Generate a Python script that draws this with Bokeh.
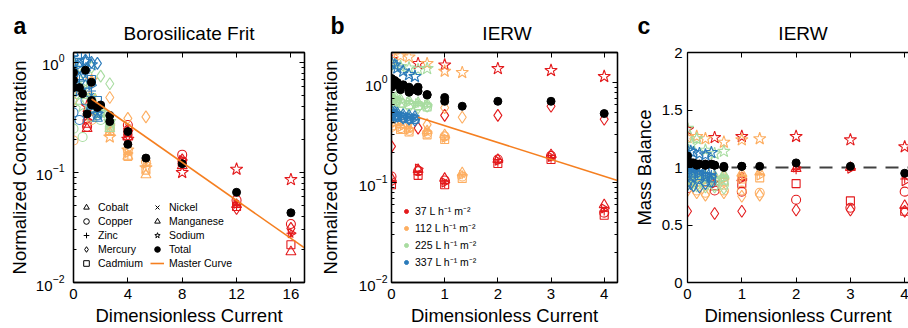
import math
from bokeh.plotting import figure
from bokeh.layouts import row
from bokeh.models import (LinearAxis, FixedTicker, Range1d, Legend, LegendItem, Span, Label)
from bokeh.embed import file_html
from bokeh.resources import INLINE

FONT = "Liberation Sans"
FLOWS = ["37", "112", "225", "337"]
FLOW_COLORS = {"37": "#e31a1c", "112": "#fdae61", "225": "#a8dca0", "337": "#2b7bba"}
FLOW_LABELS = {"37": "37 L h⁻¹ m⁻²", "112": "112 L h⁻¹ m⁻²",
               "225": "225 L h⁻¹ m⁻²", "337": "337 L h⁻¹ m⁻²"}
MC_COLOR = "#f57f20"
ELEMENTS = ["Cobalt", "Copper", "Zinc", "Mercury", "Cadmium", "Nickel", "Manganese", "Sodium"]
MARKER = {"Cobalt": "triangle", "Copper": "circle", "Zinc": "cross", "Mercury": "diamond",
          "Cadmium": "square", "Nickel": "x", "Manganese": "triangle", "Sodium": "star"}
ANGLE = {"Cobalt": -math.pi / 2}
SIZE = {"Cobalt": 9, "Copper": 9, "Zinc": 9, "Mercury": 12, "Cadmium": 8,
        "Nickel": 7, "Manganese": 10, "Sodium": 13}

# ---------------- panel a : Borosilicate Frit ----------------
A_X_37 = [1, 4, 8, 12, 16]
A_X_112 = [0, 1.33, 2.67, 4, 5.33]
A_X_225 = [0, 0.67, 1.33, 2, 2.67]
A_X_337 = [0, 0.44, 0.88, 1.32, 1.76]
A_Y_37 = dict(Cobalt=[0.30, 0.24, 0.13, 0.052, 0.028], Copper=[0.26, 0.27, 0.145, 0.056, 0.034],
              Zinc=[0.33, 0.25, 0.125, 0.050, 0.028], Mercury=[0.36, 0.22, 0.13, 0.047, 0.031],
              Cadmium=[0.28, 0.23, 0.125, 0.049, 0.022], Nickel=[0.31, 0.26, 0.13, 0.053, 0.027],
              Manganese=[0.25, 0.21, 0.115, 0.051, 0.019], Sodium=[0.40, 0.20, 0.10, 0.107, 0.086],
              Total=[0.34, 0.235, 0.12, 0.066, 0.043])
A_Y_112 = dict(Cobalt=[0.80, 0.50, 0.27, 0.15, 0.12], Copper=[0.195, 0.30, 0.25, 0.16, 0.125],
               Zinc=[0.60, 0.45, 0.26, 0.145, 0.115], Mercury=[0.45, 0.66, 0.48, 0.31, 0.32],
               Cadmium=[0.72, 0.42, 0.24, 0.14, 0.105], Nickel=[0.65, 0.44, 0.28, 0.15, 0.118],
               Manganese=[0.90, 0.36, 0.23, 0.14, 0.095], Sodium=[0.58, 0.69, 0.21, 0.16, 0.11],
               Total=[0.59, 0.41, 0.29, 0.18, 0.135])
A_Y_225 = dict(Cobalt=[0.85, 0.60, 0.45, 0.38, 0.28], Copper=[0.25, 0.21, 0.32, 0.30, 0.26],
               Zinc=[0.70, 0.55, 0.50, 0.40, 0.30], Mercury=[0.55, 0.80, 0.90, 0.75, 0.64],
               Cadmium=[0.95, 0.62, 0.48, 0.36, 0.27], Nickel=[0.78, 0.58, 0.46, 0.36, 0.30],
               Manganese=[1.0, 0.50, 0.40, 0.34, 0.25], Sodium=[0.45, 0.40, 0.38, 0.35, 0.29],
               Total=[0.69, 0.52, 0.45, 0.41, 0.33])
A_Y_337 = dict(Cobalt=[1.05, 0.95, 0.85, 0.62, 0.40], Copper=[0.35, 0.30, 0.45, 0.38, 0.33],
               Zinc=[0.75, 0.70, 0.80, 0.55, 0.36], Mercury=[0.60, 0.90, 1.05, 1.0, 0.98],
               Cadmium=[1.23, 1.0, 1.20, 0.70, 0.45], Nickel=[0.90, 0.80, 0.75, 0.50, 0.34],
               Manganese=[1.22, 0.72, 0.62, 0.40, 0.31], Sodium=[0.65, 0.55, 1.02, 0.95, 0.34],
               Total=[0.81, 0.59, 0.85, 0.66, 0.39])
A_MC_X = [1.33, 17]
A_MC_Y = [0.465, 0.0206]

# ---------------- panel b : IERW concentration ----------------
B_X_37 = [0, 0.5, 1, 2, 3, 4]
B_X_112 = [0, 0.17, 0.33, 0.67, 1.0, 1.33]
B_X_225 = [0, 0.08, 0.17, 0.33, 0.5, 0.67]
B_X_337 = [0, 0.06, 0.11, 0.22, 0.33, 0.44]
B_Y_37 = dict(Cobalt=[0.10, 0.138, 0.10, 0.165, 0.18, 0.055], Copper=[0.115, 0.13, 0.105, 0.17, 0.185, 0.05],
              Zinc=[0.10, 0.12, 0.098, 0.16, 0.175, 0.052], Mercury=[0.23, 0.35, 0.47, 0.47, 0.58, 0.43],
              Cadmium=[0.095, 0.118, 0.095, 0.155, 0.17, 0.047], Nickel=[0.105, 0.125, 0.102, 0.163, 0.18, 0.054],
              Manganese=[0.11, 0.135, 0.11, 0.17, 0.19, 0.06], Sodium=[1.7, 1.55, 1.5, 1.38, 1.32, 1.15],
              Total=[0.95, 0.9, 0.71, 0.65, 0.65, 0.49])
B_Y_112 = dict(Cobalt=[0.38, 0.36, 0.34, 0.32, 0.28, 0.12], Copper=[0.36, 0.35, 0.33, 0.31, 0.29, 0.115],
               Zinc=[0.39, 0.37, 0.35, 0.33, 0.27, 0.12], Mercury=[0.45, 0.42, 0.40, 0.38, 0.56, 0.45],
               Cadmium=[0.37, 0.34, 0.32, 0.30, 0.27, 0.11], Nickel=[0.38, 0.36, 0.33, 0.31, 0.28, 0.118],
               Manganese=[0.40, 0.38, 0.35, 0.33, 0.30, 0.125], Sodium=[1.95, 1.85, 1.80, 1.55, 1.3, 1.26],
               Total=[0.9, 0.85, 0.8, 0.75, 0.65, 0.58])
B_Y_225 = dict(Cobalt=[0.72, 0.68, 0.66, 0.64, 0.62, 0.60], Copper=[0.70, 0.66, 0.63, 0.60, 0.58, 0.57],
               Zinc=[0.74, 0.70, 0.67, 0.65, 0.62, 0.61], Mercury=[0.62, 0.60, 0.58, 0.57, 0.56, 0.58],
               Cadmium=[0.68, 0.64, 0.62, 0.60, 0.59, 0.57], Nickel=[0.71, 0.69, 0.65, 0.63, 0.61, 0.59],
               Manganese=[0.73, 0.71, 0.68, 0.66, 0.63, 0.62], Sodium=[1.55, 1.5, 1.45, 1.4, 1.35, 1.38],
               Total=[1.0, 0.95, 0.9, 0.87, 0.82, 0.76])
B_Y_337 = dict(Cobalt=[0.50, 0.48, 0.47, 0.46, 0.45, 0.44], Copper=[0.47, 0.46, 0.45, 0.44, 0.43, 0.43],
               Zinc=[0.52, 0.50, 0.49, 0.47, 0.46, 0.45], Mercury=[0.44, 0.45, 0.46, 0.44, 0.43, 0.42],
               Cadmium=[0.49, 0.47, 0.46, 0.45, 0.44, 0.43], Nickel=[0.51, 0.50, 0.48, 0.46, 0.45, 0.44],
               Manganese=[0.52, 0.51, 0.50, 0.48, 0.47, 0.46], Sodium=[1.6, 1.5, 1.4, 1.3, 1.2, 1.15],
               Total=[1.1, 1.05, 1.0, 0.95, 0.9, 0.85])
B_MC_X = [0.5, 4.25]
B_MC_Y = [0.45, 0.105]

# ---------------- panel c : IERW mass balance ----------------
C_Y_37 = dict(Cobalt=[0.88, 0.86, 0.90, 1.0, 0.99, 0.88], Copper=[0.82, 0.80, 0.79, 0.72, 0.65, 0.79],
              Zinc=[0.90, 0.88, 0.92, 0.98, 1.0, 0.90], Mercury=[0.62, 0.60, 0.62, 0.63, 0.63, 0.62],
              Cadmium=[0.87, 0.84, 0.86, 0.86, 0.71, 0.62], Nickel=[0.90, 0.89, 0.93, 1.0, 1.0, 0.92],
              Manganese=[0.92, 0.91, 0.91, 0.99, 1.0, 0.67], Sodium=[1.33, 1.26, 1.27, 1.27, 1.24, 1.18],
              Total=[1.05, 1.02, 1.01, 1.04, 1.01, 0.95])
C_Y_112 = dict(Cobalt=[0.92, 0.90, 0.89, 0.90, 0.92, 0.93], Copper=[0.85, 0.80, 0.78, 0.80, 0.80, 0.78],
               Zinc=[0.93, 0.91, 0.90, 0.91, 0.93, 0.94], Mercury=[0.80, 0.78, 0.76, 0.78, 0.75, 0.76],
               Cadmium=[0.90, 0.88, 0.87, 0.88, 0.90, 0.91], Nickel=[0.93, 0.91, 0.90, 0.92, 0.94, 0.95],
               Manganese=[0.95, 0.93, 0.92, 0.93, 0.95, 0.96], Sodium=[1.26, 1.27, 1.25, 1.22, 1.24, 1.25],
               Total=[1.04, 1.02, 1.02, 1.0, 1.01, 1.01])
C_Y_225 = dict(Cobalt=[0.95, 0.93, 0.92, 0.90, 0.90, 0.91], Copper=[0.90, 0.88, 0.87, 0.85, 0.84, 0.85],
               Zinc=[0.97, 0.95, 0.93, 0.92, 0.92, 0.93], Mercury=[0.88, 0.86, 0.84, 0.83, 0.83, 0.82],
               Cadmium=[0.93, 0.91, 0.90, 0.88, 0.88, 0.89], Nickel=[0.96, 0.94, 0.93, 0.91, 0.92, 0.92],
               Manganese=[0.98, 0.96, 0.95, 0.93, 0.93, 0.94], Sodium=[1.34, 1.2, 1.25, 1.15, 1.12, 1.14],
               Total=[1.1, 1.04, 1.03, 1.02, 1.02, 1.01])
C_Y_337 = dict(Cobalt=[1.0, 0.98, 0.97, 0.95, 0.93, 0.92], Copper=[0.95, 0.93, 0.92, 0.90, 0.88, 0.87],
               Zinc=[1.02, 1.0, 0.99, 0.97, 0.95, 0.94], Mercury=[0.85, 0.86, 0.84, 0.83, 0.86, 0.88],
               Cadmium=[0.98, 0.96, 0.95, 0.93, 0.92, 0.91], Nickel=[1.01, 0.99, 0.98, 0.96, 0.94, 0.93],
               Manganese=[1.05, 1.03, 1.02, 1.0, 0.98, 0.97], Sodium=[1.15, 1.14, 1.13, 1.12, 1.11, 1.13],
               Total=[1.05, 1.04, 1.04, 1.03, 1.03, 1.03])
C_REF = 1.0

A_XTICKS = [0, 4, 8, 12, 16]
BC_XTICKS = [0, 1, 2, 3, 4]
LOG_MAJOR = [0.01, 0.1, 1]
LOG_MINOR = [m * 10.0 ** e for e in (-2, -1, 0) for m in range(2, 10)]
C_YTICKS = [0, 0.5, 1, 1.5, 2]

H = 328
TOP = 52
BOTTOM = 46


def style_axis(ax, labels=True):
    ax.axis_line_color = "black"
    ax.axis_line_width = 1.3
    ax.major_tick_in = 5
    ax.major_tick_out = 0
    ax.minor_tick_in = 3
    ax.minor_tick_out = 0
    ax.major_tick_line_color = "black"
    ax.minor_tick_line_color = "black"
    ax.major_tick_line_width = 1
    ax.minor_tick_line_width = 1
    ax.major_label_text_font = FONT
    ax.major_label_text_font_size = "15px"
    ax.major_label_text_color = "black"
    ax.axis_label_text_font = FONT
    ax.axis_label_text_font_size = "18.5px"
    ax.axis_label_text_font_style = "normal"
    ax.axis_label_text_color = "black"
    if not labels:
        ax.major_label_text_font_size = "1px"
        ax.major_label_text_color = None
        ax.major_label_standoff = 0


def make_fig(width, left, right, x_end, y_range, log, xticks, title, letter,
             letter_x, frame_w, title_offset=0, outline=True):
    p = figure(width=width, height=H, x_range=Range1d(0, x_end), y_range=y_range,
               y_axis_type="log" if log else "linear", output_backend="svg",
               toolbar_location=None, min_border_left=left, min_border_right=right,
               min_border_top=TOP, min_border_bottom=BOTTOM)
    p.grid.visible = False
    p.outline_line_color = "black" if outline else None
    p.outline_line_width = 1.3
    yt = FixedTicker(ticks=LOG_MAJOR, minor_ticks=LOG_MINOR) if log else FixedTicker(ticks=C_YTICKS)
    xt = FixedTicker(ticks=xticks)
    p.xaxis.ticker = xt
    p.yaxis.ticker = yt
    style_axis(p.xaxis[0])
    style_axis(p.yaxis[0])
    p.xaxis[0].axis_label = "Dimensionless Current"
    p.xaxis[0].major_label_standoff = 6
    p.xaxis[0].axis_label_standoff = 3
    top = LinearAxis(ticker=xt)
    style_axis(top, labels=False)
    p.add_layout(top, "above")
    if outline:
        right_ax = LinearAxis(ticker=yt)
        style_axis(right_ax, labels=False)
        p.add_layout(right_ax, "right")
    p.title.text = ""
    p.add_layout(Label(x=frame_w / 2 + title_offset, y=19, x_units="screen", y_units="screen",
                       text=title, text_font=FONT, text_font_size="19px",
                       text_font_style="normal", text_color="black",
                       text_align="center", text_baseline="middle"), "above")
    p.add_layout(Label(x=letter_x, y=6, x_units="screen", y_units="screen", text=letter,
                       text_font=FONT, text_font_size="23px", text_font_style="bold",
                       text_color="black", text_align="left", text_baseline="middle"), "above")
    return p


def add_points(p, xs, ys):
    for flow in FLOWS:
        for el in ELEMENTS:
            p.scatter(xs[flow], ys[flow][el], marker=MARKER[el], size=SIZE[el],
                      angle=ANGLE.get(el, 0.0), line_color=FLOW_COLORS[flow],
                      fill_color=None, line_width=1.1)
    for flow in FLOWS:
        p.scatter(xs[flow], ys[flow]["Total"], marker="circle", size=8,
                  fill_color="black", line_color="black")


# panel a
pa = make_fig(316, 73, 12, 17, Range1d(0.01, 1.23), True, A_XTICKS,
              "Borosilicate Frit", "a", -60, 231)
pa.yaxis[0].axis_label = "Normalized Concentration"
pa.yaxis[0].major_label_standoff = 9
pa.yaxis[0].axis_label_standoff = 3
add_points(pa, {"37": A_X_37, "112": A_X_112, "225": A_X_225, "337": A_X_337},
           {"37": A_Y_37, "112": A_Y_112, "225": A_Y_225, "337": A_Y_337})
mc_a = pa.line(A_MC_X, A_MC_Y, line_color=MC_COLOR, line_width=1.6)
# legend-only renderers (hidden from the plot area)
items = []
for el in ELEMENTS:
    r = pa.scatter(A_X_37[-1:], A_Y_37[el][-1:], marker=MARKER[el], size=SIZE[el],
                   angle=ANGLE.get(el, 0.0), line_color="black", fill_color=None,
                   line_width=1, visible=False)
    items.append(LegendItem(label=el, renderers=[r]))
rt = pa.scatter(A_X_37[-1:], A_Y_37["Total"][-1:], marker="circle", size=6,
                fill_color="black", line_color="black", visible=False)
leg_items = items + [LegendItem(label="Total", renderers=[rt]),
                     LegendItem(label="Master Curve", renderers=[mc_a])]
leg_a = Legend(items=leg_items, location=(6, 12), nrows=5, orientation="vertical",
               glyph_width=14, glyph_height=14, label_height=14, label_width=52,
               spacing=0, padding=0, margin=0, label_standoff=5, border_line_color=None,
               background_fill_alpha=0, label_text_font=FONT, label_text_font_size="10.5px",
               label_text_color="black")
pa.add_layout(leg_a)

# panel b
pb = make_fig(312, 70, 11, 4.25, Range1d(0.01, 2.0), True, BC_XTICKS, "IERW", "b", -61, 231)
pb.yaxis[0].axis_label = "Normalized Concentration"
pb.yaxis[0].major_label_standoff = 4
pb.yaxis[0].axis_label_standoff = 15
B_XS = {"37": B_X_37, "112": B_X_112, "225": B_X_225, "337": B_X_337}
add_points(pb, B_XS, {"37": B_Y_37, "112": B_Y_112, "225": B_Y_225, "337": B_Y_337})
pb.line(B_MC_X, B_MC_Y, line_color=MC_COLOR, line_width=1.6)
b_items = []
for flow in FLOWS:
    r = pb.scatter(B_X_37[-1:], B_Y_37["Total"][-1:], marker="circle", size=8,
                   fill_color=FLOW_COLORS[flow], line_color=FLOW_COLORS[flow], visible=False)
    b_items.append(LegendItem(label=FLOW_LABELS[flow], renderers=[r]))
leg_b = Legend(items=b_items, location=(10, 12), orientation="vertical",
               glyph_width=10, glyph_height=16, label_height=16, spacing=1, padding=0,
               margin=0, label_standoff=4, border_line_color=None, background_fill_alpha=0,
               label_text_font=FONT, label_text_font_size="10.5px", label_text_color="black")
pb.add_layout(leg_b)

# panel c
pc = make_fig(280, 59, 0, 4.07, Range1d(0, 2), False, BC_XTICKS, "IERW", "c", -50, 221,
              title_offset=5, outline=False)
pc.yaxis[0].axis_label = "Mass Balance"
pc.yaxis[0].major_label_standoff = 5
pc.yaxis[0].axis_label_standoff = 4
pc.yaxis[0].major_label_overrides = {0: "0", 0.5: "0.5", 1: "1", 1.5: "1.5", 2: "2"}
ref = Span(location=C_REF, dimension="width", line_color="#404040", line_width=1.8,
           line_dash="13 9", level="underlay")
pc.add_layout(ref)
add_points(pc, B_XS, {"37": C_Y_37, "112": C_Y_112, "225": C_Y_225, "337": C_Y_337})

layout = row(pa, pb, pc)
open("out.html", "w").write(file_html(layout, INLINE))
